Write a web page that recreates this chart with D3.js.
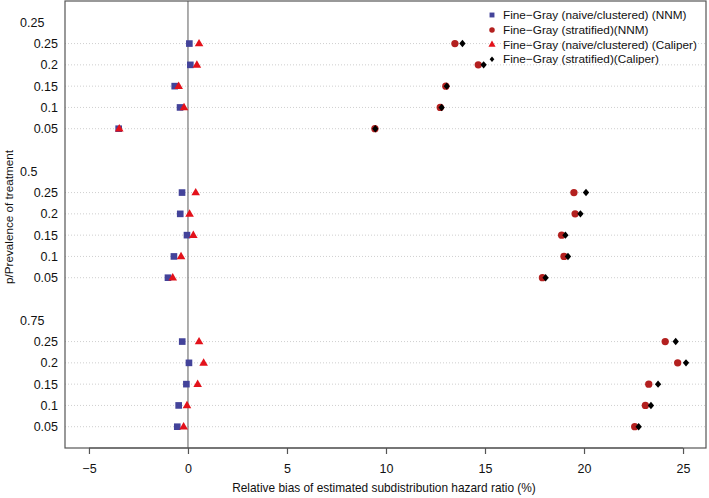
<!DOCTYPE html>
<html>
<head>
<meta charset="utf-8">
<script src="https://cdn.jsdelivr.net/npm/d3@7"></script>
<style>
body{margin:0;background:#fff;}
svg{display:block;font-family:"Liberation Sans",Arial,Helvetica,sans-serif;}
</style>
</head>
<body>
<svg id="chart" width="709" height="498"></svg>
<script>
// ---- data ----
const groups = ["0.25", "0.5", "0.75"];
const rowLabels = ["0.25", "0.2", "0.15", "0.1", "0.05"];
const seriesNames = [
  "Fine\u2212Gray (naive/clustered) (NNM)",
  "Fine\u2212Gray (stratified)(NNM)",
  "Fine\u2212Gray (naive/clustered) (Caliper)",
  "Fine\u2212Gray (stratified)(Caliper)"
];
// values per group, rows ordered 0.25,0.2,0.15,0.1,0.05
const naiveNNM = [
  [0.07, 0.12, -0.67, -0.40, -3.50],
  [-0.30, -0.39, -0.05, -0.71, -1.01],
  [-0.29, 0.05, -0.08, -0.47, -0.54]
];
const stratNNM = [
  [13.48, 14.66, 13.02, 12.74, 9.44],
  [19.49, 19.55, 18.87, 18.99, 17.90],
  [24.10, 24.73, 23.27, 23.10, 22.56]
];
const naiveCal = [
  [0.56, 0.45, -0.47, -0.20, -3.47],
  [0.39, 0.08, 0.27, -0.35, -0.77],
  [0.56, 0.79, 0.49, -0.05, -0.22]
];
const stratCal = [
  [13.86, 14.93, 13.07, 12.81, 9.46],
  [20.10, 19.82, 19.06, 19.19, 18.06],
  [24.63, 25.15, 23.74, 23.38, 22.76]
];
const xTicks = [-5, 0, 5, 10, 15, 20, 25];
const xTitle = "Relative bias of estimated subdistribution hazard ratio (%)";
const yTitle = "p/Prevalence of treatment";

// ---- layout ----
const svg = d3.select("#chart");
const L = 65, R = 706, T = 1, B = 448;
const x = d3.scaleLinear().domain([-6.21, 26.16]).range([L, R]);
const y = d3.scaleLinear().domain([-1, 20]).range([T, B]);

const colors = ["#43439a", "#b3201f", "#e3121b", "#000000"];
// R pch 18 style diamond (rotated square, a bit narrower)
const diamond18 = {
  draw(ctx, size) {
    const h = Math.sqrt(size) * 0.62, w = h * 0.85;
    ctx.moveTo(0, -h); ctx.lineTo(w, 0); ctx.lineTo(0, h); ctx.lineTo(-w, 0); ctx.closePath();
  }
};
const symbols = [d3.symbolSquare, d3.symbolCircle, d3.symbolTriangle, diamond18];
const sizes = [44, 42, 32, 36];
const legSizes = [24, 24, 22, 20];
const allSeries = [naiveNNM, stratNNM, naiveCal, stratCal];

// row positions
const rows = [];
groups.forEach((g, gi) => {
  rowLabels.forEach((r, ri) => {
    rows.push({g: gi, r: ri, label: r, idx: gi * 7 + 1 + ri});
  });
});

// gridlines
svg.append("g").selectAll("line").data(rows).join("line")
  .attr("x1", L).attr("x2", R)
  .attr("y1", d => y(d.idx)).attr("y2", d => y(d.idx))
  .attr("stroke", "#cfcfcf").attr("stroke-width", 1)
  .attr("stroke-dasharray", "1,2");

// zero line
svg.append("line")
  .attr("x1", x(0)).attr("x2", x(0)).attr("y1", T).attr("y2", B)
  .attr("stroke", "#777").attr("stroke-width", 1.2);

// row labels
svg.append("g").selectAll("text").data(rows).join("text")
  .attr("x", 58).attr("y", d => y(d.idx)).attr("dy", "0.35em")
  .attr("text-anchor", "end").attr("font-size", 12.5).attr("fill", "#111")
  .text(d => d.label);

// group labels
svg.append("g").selectAll("text").data(groups).join("text")
  .attr("x", 20).attr("y", (d, i) => y(i * 7)).attr("dy", "0.35em")
  .attr("text-anchor", "start").attr("font-size", 12.5).attr("fill", "#111")
  .text(d => d);

// points
allSeries.forEach((s, si) => {
  const pts = [];
  s.forEach((arr, gi) => arr.forEach((v, ri) => pts.push({v, idx: gi * 7 + 1 + ri})));
  svg.append("g").selectAll("path").data(pts).join("path")
    .attr("d", d3.symbol().type(symbols[si]).size(sizes[si]))
    .attr("transform", d => `translate(${x(d.v)},${y(d.idx) + (si === 2 ? 0.3 : 0)})`)
    .attr("fill", colors[si]);
});

// box
svg.append("rect").attr("x", L).attr("y", T).attr("width", R - L).attr("height", B - T)
  .attr("fill", "none").attr("stroke", "#555").attr("stroke-width", 1.2);

// x axis
const axis = svg.append("g").attr("transform", `translate(0,${B})`)
  .call(d3.axisBottom(x).tickValues(xTicks).tickFormat(d => d < 0 ? "\u2212" + Math.abs(d) : d).tickSize(6).tickPadding(10));
axis.select(".domain").attr("d", `M${x(-5)},0H${x(25)}`).attr("stroke", "#555").attr("stroke-width", 1.2);
axis.selectAll(".tick line").attr("stroke", "#555").attr("stroke-width", 1.2);
axis.selectAll(".tick text").attr("font-size", 12.5).attr("fill", "#111")
  .attr("font-family", "Liberation Sans, Arial, sans-serif");

// titles (font size fitted to the reference width)
function fitText(sel, target) {
  const w = sel.node().getComputedTextLength();
  const fs = parseFloat(sel.attr("font-size"));
  if (w > 0) sel.attr("font-size", (fs * target / w).toFixed(2));
}
const xt = svg.append("text").attr("x", 384).attr("y", 491.5)
  .attr("text-anchor", "middle").attr("font-size", 12.5).attr("fill", "#111").text(xTitle);
fitText(xt, 304);
const yt = svg.append("text").attr("transform", `translate(9,217) rotate(-90)`)
  .attr("text-anchor", "middle").attr("dy", "0.35em").attr("font-size", 12.5).attr("fill", "#111").text(yTitle);
fitText(yt, 134);

// legend
const legY = [15, 30, 44.6, 59.3];
const leg = svg.append("g");
const legTexts = [];
seriesNames.forEach((n, i) => {
  const ly = legY[i];
  leg.append("path").attr("d", d3.symbol().type(symbols[i]).size(legSizes[i]))
    .attr("transform", `translate(492,${ly})`).attr("fill", colors[i]);
  legTexts.push(leg.append("text").attr("x", 503).attr("y", ly).attr("dy", "0.35em")
    .attr("font-size", 13).attr("fill", "#111").text(n));
});
// common legend font size so the longest entry spans ~194px like the reference
const wLong = legTexts[2].node().getComputedTextLength();
if (wLong > 0) {
  const fs = Math.min(14.5, 13 * 194 / wLong);
  legTexts.forEach(t => t.attr("font-size", fs.toFixed(2)));
}
</script>
</body>
</html>
